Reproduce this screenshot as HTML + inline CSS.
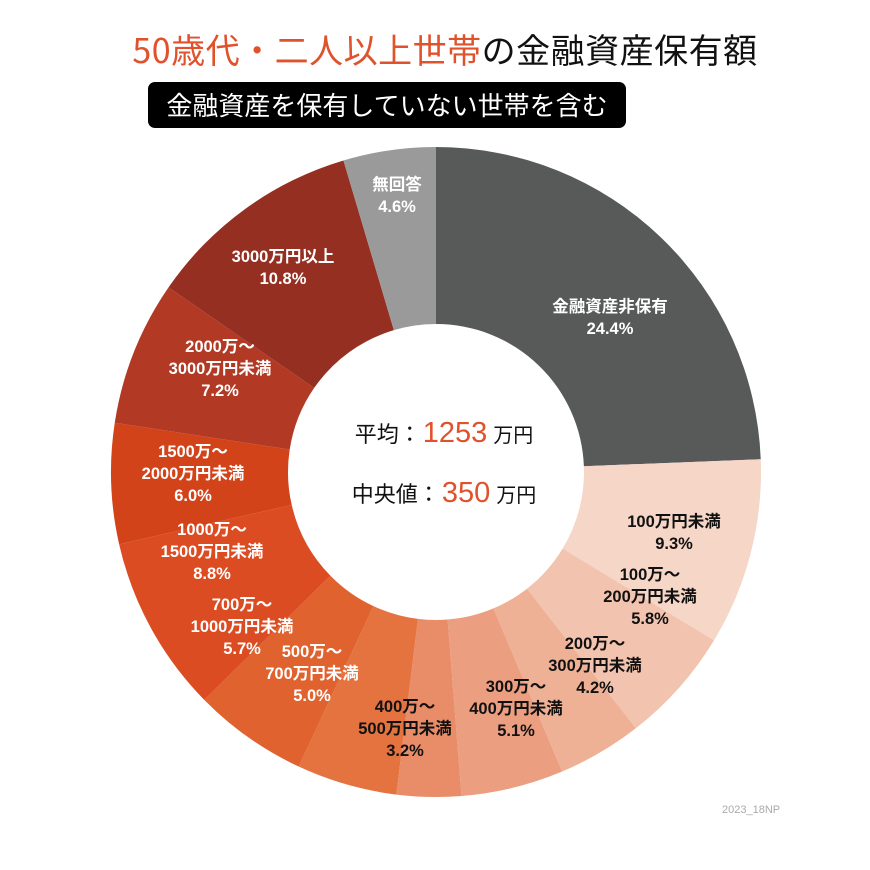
<!DOCTYPE html>
<html><head><meta charset="utf-8"><style>
body{margin:0;background:#fff;}
#wrap{position:relative;width:870px;height:870px;font-family:"Liberation Sans","Noto Sans CJK JP",sans-serif;}
</style></head><body>
<div id="wrap">
<div style="position:absolute;left:0;width:890px;top:24px;text-align:center;font-size:34px;letter-spacing:0.5px;font-family:'Noto Sans CJK JP',sans-serif;"><span style="color:#e0522b">50歳代・二人以上世帯</span><span style="color:#111">の金融資産保有額</span></div>
<div style="position:absolute;left:148px;top:82px;width:478px;height:46px;background:#000;border-radius:7px;color:#fff;font-size:26px;line-height:46px;text-align:center;font-family:'Noto Sans CJK JP',sans-serif;">金融資産を保有していない世帯を含む</div>
<svg id="svg" width="870" height="870" style="position:absolute;left:0;top:0"></svg>
<div style="position:absolute;left:722px;top:804px;font-size:11px;color:#aaa;">2023_18NP</div>
</div>
<script>
const categories=["金融資産非保有","100万円未満","100万〜200万円未満","200万〜300万円未満","300万〜400万円未満","400万〜500万円未満","500万〜700万円未満","700万〜1000万円未満","1000万〜1500万円未満","1500万〜2000万円未満","2000万〜3000万円未満","3000万円以上","無回答"];
const values=[24.4,9.3,5.8,4.2,5.1,3.2,5.0,5.7,8.8,6.0,7.2,10.8,4.6];
const valueLabels=["24.4%","9.3%","5.8%","4.2%","5.1%","3.2%","5.0%","5.7%","8.8%","6.0%","7.2%","10.8%","4.6%"];
const labelLines=[["金融資産非保有"],["100万円未満"],["100万〜","200万円未満"],["200万〜","300万円未満"],["300万〜","400万円未満"],["400万〜","500万円未満"],["500万〜","700万円未満"],["700万〜","1000万円未満"],["1000万〜","1500万円未満"],["1500万〜","2000万円未満"],["2000万〜","3000万円未満"],["3000万円以上"],["無回答"]];
const colors=["#585a5a","#f5d6c7","#f2c3ae","#efb195","#eb9e80","#e98c68","#e4733f","#e0622f","#dc4c22","#d2431a","#b23a25","#952f22","#9a9a9a"];
const textColors=["#fff","#111","#111","#111","#111","#111","#fff","#fff","#fff","#fff","#fff","#fff","#fff"];
const labelPos=[[610,312],[674,527],[650,580],[595,649],[516,692],[405,712],[312,657],[242,610],[212,535],[193,457],[220,352],[283,262],[397,190]];
const cx=436,cy=472,R=325,r=148;
const svg=document.getElementById('svg');const NS='http://www.w3.org/2000/svg';
const total=values.reduce((a,b)=>a+b,0);
function pt(a,rad){return [cx+rad*Math.sin(a),cy-rad*Math.cos(a)];}
let acc=0;
values.forEach((v,i)=>{
 const a0=acc/total*2*Math.PI;acc+=v;const a1=acc/total*2*Math.PI;
 const [x0,y0]=pt(a0,R),[x1,y1]=pt(a1,R),[x2,y2]=pt(a1,r),[x3,y3]=pt(a0,r);
 const lg=(a1-a0)>Math.PI?1:0;
 const p=document.createElementNS(NS,'path');
 p.setAttribute('d',`M${x0},${y0}A${R},${R} 0 ${lg} 1 ${x1},${y1}L${x2},${y2}A${r},${r} 0 ${lg} 0 ${x3},${y3}Z`);
 p.setAttribute('fill',colors[i]);
 
 
 svg.appendChild(p);
});
values.forEach((v,i)=>{
 const [lx,ly]=labelPos[i];
 const t=document.createElementNS(NS,'text');
 
 
 t.setAttribute('text-anchor','middle');t.setAttribute('fill',textColors[i]);
 t.setAttribute('font-size','16.5');t.setAttribute('font-weight','bold');
 t.setAttribute('font-family','"Liberation Sans","Noto Sans CJK JP",sans-serif');
 const lines=labelLines[i].concat([valueLabels[i]]);
 lines.forEach((s,k)=>{const ts=document.createElementNS(NS,'tspan');ts.setAttribute('x',lx);ts.setAttribute('y',ly+k*22);ts.textContent=s;t.appendChild(ts);});
 svg.appendChild(t);
});
function centerLine(y,label,num,name){
 const t=document.createElementNS(NS,'text');
 
 
 t.setAttribute('x',cx+8);t.setAttribute('y',y);t.setAttribute('text-anchor','middle');
 t.setAttribute('font-family','"Liberation Sans","Noto Sans CJK JP",sans-serif');
 t.innerHTML=`<tspan font-size="22" fill="#111">${label}</tspan><tspan font-size="29" fill="#e0522b" dx="2">${num}</tspan><tspan font-size="20" fill="#111" dx="6">万円</tspan>`;
 svg.appendChild(t);
}
centerLine(442,'平均：','1253','mean-label');
centerLine(502,'中央値：','350','median-label');
</script>
</body></html>
